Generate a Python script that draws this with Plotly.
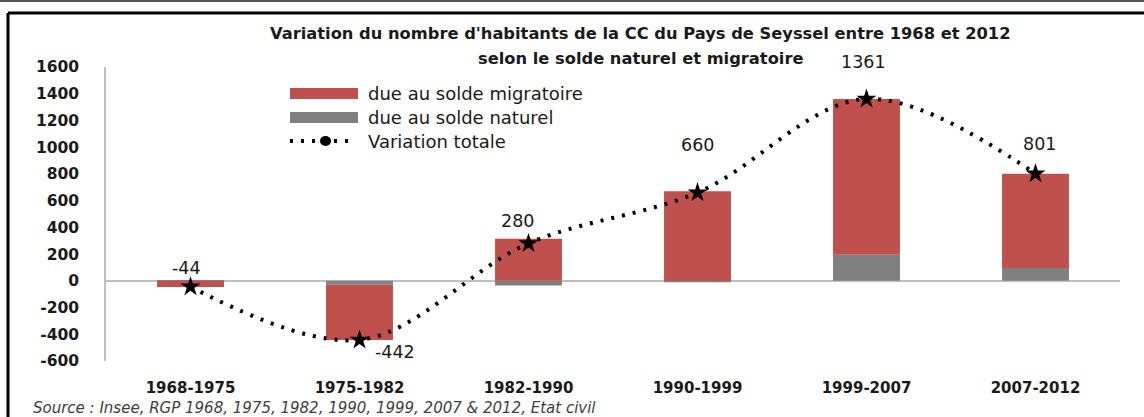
import plotly.graph_objects as go

periods = ["1968-1975", "1975-1982", "1982-1990", "1990-1999", "1999-2007", "2007-2012"]
solde_migratoire = [-47, -412, 315, 670, 1166, 706]
solde_naturel = [3, -30, -35, -10, 195, 95]
variation_totale = [-44, -442, 280, 660, 1361, 801]
y_ticks = [-600, -400, -200, 0, 200, 400, 600, 800, 1000, 1200, 1400, 1600]
y_tick_labels = ["-600", "-400", "-200", "0", "200", "400", "600", "800", "1000", "1200", "1400", "1600"]

title_lines = ["Variation du nombre d'habitants de la CC du Pays de Seyssel entre 1968 et 2012",
               "selon le solde naturel et migratoire"]
legend_labels = ["due au solde migratoire", "due au solde naturel", "Variation totale"]
source_text = "Source : Insee, RGP 1968, 1975, 1982, 1990, 1999, 2007 & 2012, Etat civil"

# label pixel offsets (style, not data)
label_shift = [(-4, 19), (35, -12), (-11, 22), (0, 48), (-3, 37), (4, 30)]

RED = "#C0504D"
GREY = "#808080"
W, H = 1144, 417
L, R, T, B = 106, 24, 67, 56
PW, PH = W - L - R, H - T - B


def px(x):
    return (x - L) / PW


def py(y):
    return (H - B - y) / PH


fig = go.Figure()
fig.add_trace(go.Bar(x=periods, y=solde_naturel, name=legend_labels[1],
                     marker=dict(color=GREY, line=dict(width=0)), showlegend=False))
fig.add_trace(go.Bar(x=periods, y=solde_migratoire, name=legend_labels[0],
                     marker=dict(color=RED, line=dict(width=0)), showlegend=False))
fig.add_trace(go.Scatter(x=periods, y=variation_totale, name=legend_labels[2],
                         mode="lines+markers", line=dict(color="black", width=4, dash="3px,8px",
                                                         shape="spline", smoothing=1),
                         marker=dict(symbol="star", size=15, color="black"), showlegend=False))

annotations = []
for p, v, (dx, dy) in zip(periods, variation_totale, label_shift):
    annotations.append(dict(x=p, y=v, xref="x", yref="y", text=str(v), showarrow=False,
                            xshift=dx, yshift=dy,
                            font=dict(family="DejaVu Sans", size=17.5, color="#1a1a1a")))

# title lines
for txt, yy in zip(title_lines, [33, 58]):
    annotations.append(dict(x=px(640), y=py(yy), xref="paper", yref="paper", text="<b>%s</b>" % txt,
                            showarrow=False, xanchor="center", yanchor="middle",
                            font=dict(family="DejaVu Sans", size=16.3, color="#1a1a1a")))

# legend texts
for txt, yy in zip(legend_labels, [93, 117, 141]):
    annotations.append(dict(x=px(366), y=py(yy), xref="paper", yref="paper", text=txt,
                            showarrow=False, xanchor="left", yanchor="middle",
                            font=dict(family="DejaVu Sans", size=18, color="#1a1a1a")))

annotations.append(dict(x=px(31), y=py(408), xref="paper", yref="paper", text="<i>%s</i>" % source_text,
                        showarrow=False, xanchor="left", yanchor="middle",
                        font=dict(family="DejaVu Sans", size=15, color="#404040")))

shapes = [
    # legend swatches
    dict(type="rect", xref="paper", yref="paper", x0=px(290), x1=px(358), y0=py(88), y1=py(99),
         fillcolor=RED, line=dict(width=0)),
    dict(type="rect", xref="paper", yref="paper", x0=px(290), x1=px(358), y0=py(112), y1=py(123),
         fillcolor=GREY, line=dict(width=0)),
    dict(type="line", xref="paper", yref="paper", x0=px(290), x1=px(356), y0=py(141), y1=py(141),
         line=dict(color="black", width=4, dash="3px,8px")),
    dict(type="circle", xref="paper", yref="paper", x0=px(320), x1=px(331), y0=py(136), y1=py(146),
         fillcolor="black", line=dict(width=0)),
    # frame
    dict(type="line", xref="paper", yref="paper", x0=px(8), x1=px(1144), y0=py(13), y1=py(13),
         line=dict(color="black", width=3)),
    dict(type="line", xref="paper", yref="paper", x0=px(8), x1=px(8), y0=py(13), y1=py(417),
         line=dict(color="black", width=3)),
    dict(type="line", xref="paper", yref="paper", x0=px(0), x1=px(1144), y0=py(1), y1=py(1),
         line=dict(color="#555555", width=2)),
]

fig.update_layout(
    width=W, height=H,
    margin=dict(l=L, r=R, t=T, b=B),
    paper_bgcolor="white", plot_bgcolor="white",
    barmode="relative", bargap=0.604,
    showlegend=False,
    annotations=annotations, shapes=shapes,
    xaxis=dict(showline=False, showgrid=False, zeroline=False, ticks="",
               tickfont=dict(family="DejaVu Sans", size=15, color="#1a1a1a", weight="bold"),
               ticklabelstandoff=16),
    yaxis=dict(range=[-600, 1600], tickvals=y_ticks, ticktext=y_tick_labels, showgrid=False,
               showline=True, linecolor="#BFBFBF", linewidth=1.5, zeroline=True,
               zerolinecolor="#BFBFBF", zerolinewidth=2, ticks="", ticklabelstandoff=22,
               tickfont=dict(family="DejaVu Sans", size=15.5, color="#1a1a1a", weight="bold")),
)

fig.write_html("out.html", config={"displayModeBar": False},
               post_script="document.body.style.margin='0';document.body.style.overflow='hidden';")
